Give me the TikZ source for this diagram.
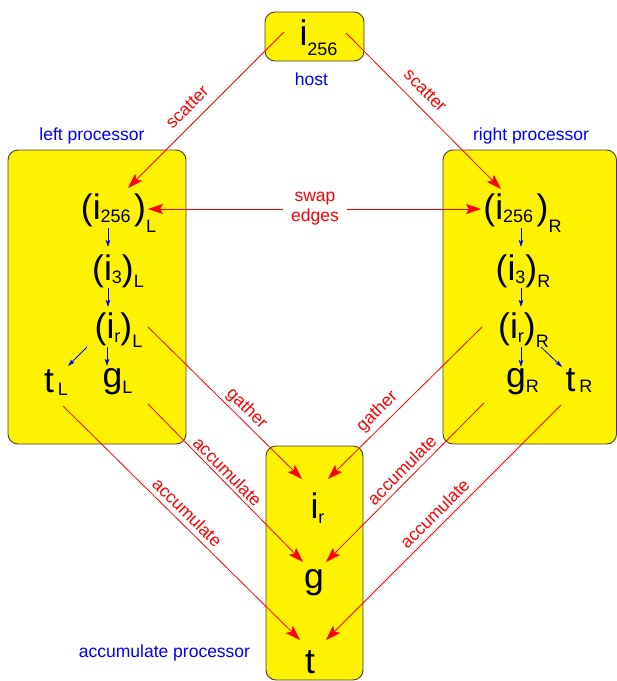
\documentclass[tikz,border=0pt]{standalone}
\usepackage{fontspec}
\setmainfont{Liberation Sans}
\usetikzlibrary{arrows.meta}
\newcommand\mysub[2]{\raisebox{#1}{\fontsize{18}{18}\selectfont #2}}
\begin{document}
\begin{tikzpicture}[x=1pt,y=-1pt,
  procbox/.style={draw=black!75, fill=yellow, line width=0.9pt, rounded corners=10pt},
  big/.style={anchor=base, inner sep=0pt, font=\fontsize{35.5}{40}\selectfont},
  tag/.style={blue, anchor=base, inner sep=0pt, font=\fontsize{17.5}{20}\selectfont},
  lbl/.style={red, inner sep=0pt, sloped, font=\fontsize{17.5}{20}\selectfont},
  redarr/.style={draw=red, line width=0.8pt, -{Stealth[length=15pt,width=10pt,inset=3pt]}},
  bluearr/.style={draw=blue, line width=0.8pt, -{Stealth[length=7pt,width=4.5pt,inset=1.5pt]}}]
\useasboundingbox (0,0) rectangle (617,681);
% boxes
\draw[procbox] (265,12) rectangle (364,61);
\draw[procbox] (8,150) rectangle (186,444);
\draw[procbox] (443,150) rectangle (616.5,444);
\draw[procbox] (266,446) rectangle (363,680);
% region labels
\node[tag] (hostlbl) at (311.5,85) {host};
\node[tag] (leftlbl) at (92,140) {left processor};
\node[tag] (rightlbl) at (531,140) {right processor};
\node[tag] (acclbl) at (164.5,657) {accumulate processor};
% nodes
\node[big] (host) at (318.5,45) {i\mysub{-10pt}{256}};
\node[big] (iL256) at (118.5,219) {(i\mysub{-3pt}{256}\hspace{3.5pt})\mysub{-13pt}{L}};
\node[big] (iR256) at (522.5,219) {(i\mysub{-3pt}{256}\hspace{3.5pt})\mysub{-13pt}{R}};
\node[big] (iL3) at (118,280) {(i\mysub{-3pt}{3})\mysub{-7pt}{L}};
\node[big] (iR3) at (523,280) {(i\mysub{-3pt}{3})\mysub{-7pt}{R}};
\node[big] (iLr) at (118.5,338) {(i\mysub{-4pt}{r})\mysub{-9pt}{L}};
\node[big] (iRr) at (523.5,338) {(i\mysub{-4pt}{r})\mysub{-9pt}{R}};
\node[big] (tL) at (56,392) {t\hspace{4pt}\mysub{-3pt}{L}};
\node[big] (gL) at (117.5,387) {g\mysub{-6pt}{L}};
\node[big] (gR) at (522.5,387) {g\mysub{-5pt}{R}};
\node[big] (tR) at (579,391) {t\hspace{4pt}\mysub{-1pt}{R}};
\node[big] (ir) at (317.5,518) {i\mysub{-5pt}{r}};
\node[big] (g) at (314,588) {g};
\node[big] (t) at (310,673) {t};
\node[red, align=center, inner xsep=8pt, inner ysep=0pt, font=\fontsize{17.5}{20}\selectfont] (swap) at (315,209) {swap\\edges};
% blue internal arrows
\draw[bluearr] ([shift={(-10.5,9)}]iL256.base) -- ([shift={(-10,-33)}]iL3.base);
\draw[bluearr] ([shift={(-10,8)}]iL3.base) -- ([shift={(-10.5,-31)}]iLr.base);
\draw[bluearr] ([shift={(-11.5,9)}]iLr.base) -- ([shift={(-10.5,-21)}]gL.base);
\draw[bluearr] ([shift={(-31.5,9)}]iLr.base) -- ([shift={(12,-26)}]tL.base);
\draw[bluearr] ([shift={(-1.5,9)}]iR256.base) -- ([shift={(-2,-33)}]iR3.base);
\draw[bluearr] ([shift={(-2,8)}]iR3.base) -- ([shift={(-2.5,-31)}]iRr.base);
\draw[bluearr] ([shift={(-2.5,9)}]iRr.base) -- ([shift={(-1.5,-20)}]gR.base);
\draw[bluearr] ([shift={(17.5,9)}]iRr.base) -- ([shift={(-17,-24)}]tR.base);
% red arrows
\draw[redarr] ([shift={(-34.5,-13)}]host.base) -- node[lbl, pos=0.55, above=9.3pt]{scatter} ([shift={(9.5,-31)}]iL256.base);
\draw[redarr] ([shift={(27.5,-12)}]host.base) -- node[lbl, pos=0.44, above=9.6pt]{scatter} ([shift={(-21.5,-30)}]iR256.base);
\draw[redarr] (swap.west) -- ([shift={(29.5,-10)}]iL256.base);
\draw[redarr] (swap.east) -- ([shift={(-41.5,-10)}]iR256.base);
\draw[redarr] ([shift={(29.5,-11)}]iLr.base) -- node[lbl, pos=0.59, above=2.5pt]{gather} ([shift={(-15.5,-39)}]ir.base);
\draw[redarr] ([shift={(-41.5,-11)}]iRr.base) -- node[lbl, pos=0.62, above=4.5pt]{gather} ([shift={(10.5,-39)}]ir.base);
\draw[redarr] ([shift={(30.5,17)}]gL.base) -- node[lbl, pos=0.47, above=2.7pt]{accumulate} ([shift={(-11,-26)}]g.base);
\draw[redarr] ([shift={(-38.5,16)}]gR.base) -- node[lbl, pos=0.47, above=4.3pt]{accumulate} ([shift={(12,-26)}]g.base);
\draw[redarr] ([shift={(7,14)}]tL.base) -- node[lbl, pos=0.49, above=5pt]{accumulate} ([shift={(-10,-33)}]t.base);
\draw[redarr] ([shift={(-18,14)}]tR.base) -- node[lbl, pos=0.5, above=5.7pt]{accumulate} ([shift={(16,-33)}]t.base);
\end{tikzpicture}
\end{document}
